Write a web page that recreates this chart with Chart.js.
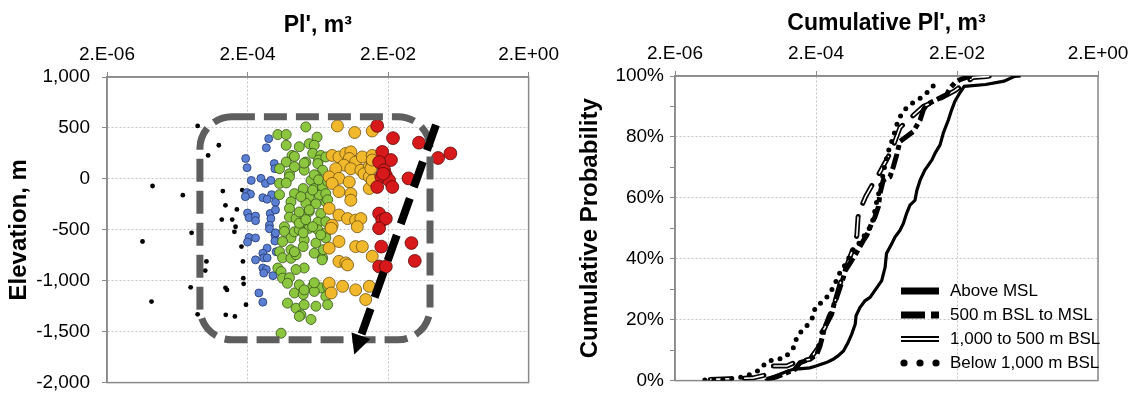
<!DOCTYPE html>
<html>
<head>
<meta charset="utf-8">
<script src="https://cdn.jsdelivr.net/npm/chart.js@4.4.1/dist/chart.umd.min.js"></script>
<style>
  html, body { margin: 0; padding: 0; background: #fff; overflow: hidden; }
  #wrap { position: relative; width: 1137px; height: 395px; overflow: hidden; }
  #elevChart { position: absolute; left: 0; top: 0; }
  #cdfChart { position: absolute; left: 565px; top: 0; }
</style>
</head>
<body>
<div id="wrap">
  <!-- canvases run a little past the bottom edge; Chart.js keeps room for the last y label there -->
  <canvas id="elevChart" width="565" height="406"></canvas>
  <canvas id="cdfChart" width="572" height="398"></canvas>
</div>
<script>
// Axis ticks (shared log axis for PI')
const piTicks = [2e-6, 2e-4, 2e-2, 2];
const piTickLabels = ['2.E-06', '2.E-04', '2.E-02', '2.E+00'];
const elevTicks = [-2000, -1500, -1000, -500, 0, 500, 1000];
const probTicks = [0, 10, 20, 30, 40, 50, 60, 70, 80, 90, 100];
const probMajor = [0, 20, 40, 60, 80, 100];

// Left chart: [PI' (m3), elevation (m)] grouped by PI' size class
const blackPoints = [
  [3.9e-5, 520], [7.8e-5, 330], [5.5e-5, 230], [8.9e-6, -70], [2.4e-5, -160], [8.9e-5, -120],
  [1.68e-4, -110], [9.7e-5, -260], [1.41e-4, -300], [8.6e-5, -400], [1.21e-4, -400], [1.35e-4, -470],
  [3.2e-5, -530], [1.3e-4, -520], [6.4e-6, -615], [1.64e-4, -665], [5.2e-5, -810], [5.0e-5, -900],
  [1.72e-4, -810], [1.74e-4, -975], [1.76e-4, -1030], [3.1e-5, -1065], [9.7e-5, -1070], [1.02e-4, -1090],
  [8.6e-6, -1205], [1.9e-4, -1235], [3.9e-5, -1330], [9.8e-5, -1335], [1.32e-4, -1350]
];
const bluePoints = [
  [4.0e-4, 395], [3.7e-4, 305], [1.88e-4, 200], [1.97e-4, 110], [4.8e-4, 150], [4.9e-4, 100],
  [2.26e-4, -15], [3.1e-4, 5], [3.6e-4, -45], [4.3e-4, -15], [1.96e-4, -135], [2.2e-4, -150],
  [1.86e-4, -175], [3.3e-4, -185], [4.4e-4, -155], [3.8e-4, -200], [5.0e-4, -230], [2.0e-4, -335],
  [2.1e-4, -380], [2.6e-4, -365], [2.6e-4, -410], [4.2e-4, -340], [4.3e-4, -390], [5.0e-4, -305],
  [4.1e-4, -455], [2.1e-4, -575], [2.0e-4, -620], [2.6e-4, -580], [4.1e-4, -490], [4.9e-4, -550],
  [4.9e-4, -610], [3.8e-4, -680], [3.3e-4, -730], [3.4e-4, -775], [2.6e-4, -795], [3.8e-4, -775],
  [3.3e-4, -875], [3.7e-4, -890], [3.4e-4, -925], [4.6e-4, -950], [2.9e-4, -1120], [3.3e-4, -1210],
  [5.0e-4, -530], [5.1e-4, -715]
];
const greenPoints = [
  [5.4e-4, 435], [7.1e-4, 435], [7.1e-4, 330], [8.6e-4, 230], [7.1e-4, 165], [5.7e-4, 100],
  [7.9e-4, 50], [7.9e-4, 20], [5.7e-4, -45], [9.3e-4, -145], [8.3e-4, -225], [7.9e-4, -290],
  [7.9e-4, -375], [9.8e-4, -390], [6.7e-4, -470], [6.7e-4, -515], [8.3e-4, -580], [9.3e-4, -520],
  [6.3e-4, -615], [8.3e-4, -695], [5.7e-4, -715], [6.3e-4, -775], [8.3e-4, -780], [9.8e-4, -745],
  [5.4e-4, -875], [6.0e-4, -910], [6.3e-4, -975], [7.9e-4, -970], [7.4e-4, -1025], [9.3e-4, -1120],
  [7.4e-4, -1220], [9.8e-4, -1270], [6.0e-4, -1515], [7.1e-4, -40], [5.7e-4, -155],
  [1.35e-3, 510], [1.95e-3, 410], [1.51e-3, 345], [1.78e-3, 330], [1.09e-3, 315], [1.69e-3, 250],
  [2.2e-3, 230], [2.05e-3, 185], [2.6e-3, 215], [1.35e-3, 165], [2.0e-3, 150], [2.34e-3, 85],
  [9.3e-4, 120], [1.28e-3, 85], [1.88e-3, 35], [2.76e-3, 5], [1.6e-3, -15], [1.24e-3, -95],
  [1.78e-3, -95], [2.34e-3, -80], [1.51e-3, -175], [2.1e-3, -160], [2.6e-3, -145], [1.35e-3, -240],
  [1.88e-3, -245], [2.6e-3, -225], [1.09e-3, -325], [1.51e-3, -320], [2.2e-3, -340], [1.28e-3, -420],
  [2.0e-3, -425], [2.6e-3, -420],
  [1.09e-3, -500], [1.51e-3, -485], [2.0e-3, -500], [2.6e-3, -530], [1.28e-3, -600], [1.88e-3, -630],
  [2.6e-3, -580], [1.24e-3, -665], [1.78e-3, -730], [2.34e-3, -775], [1.28e-3, -875], [1.09e-3, -1040],
  [1.69e-3, -1055], [2.2e-3, -1070], [1.24e-3, -1135], [1.78e-3, -1105], [2.6e-3, -1155], [1.28e-3, -1235],
  [1.88e-3, -1250], [2.76e-3, -1235], [1.15e-3, -1335], [1.6e-3, -1380], [1.09e-3, -1350],
  [1.78e-3, 40], [2.05e-3, -10], [1.28e-3, 155], [9.3e-4, 220], [2.76e-3, -25], [1.69e-3, -110],
  [1.09e-3, -435], [1.35e-3, -400], [1.24e-3, -530], [1.69e-3, -470], [2.2e-3, -550], [9.3e-4, -715],
  [2.4e-3, -695], [2.3e-3, -795], [9.8e-4, -890], [1.78e-3, -1020], [2.76e-3, -1055], [1.28e-3, -1090],
  [1.51e-3, -305], [2.76e-3, -205], [1.15e-3, -175]
];
const orangePoints = [
  [3.8e-3, 520], [6.7e-3, 455], [1.19e-2, 470], [3.2e-3, 230], [4.0e-3, 215], [5.0e-3, 250],
  [5.9e-3, 265], [5.6e-3, 200], [6.9e-3, 165], [8.6e-3, 215], [1.19e-2, 230], [4.7e-3, 135],
  [3.6e-3, 100], [5.9e-3, 100], [8.2e-3, 85], [1.08e-2, 120], [1.19e-2, 135], [9.1e-3, 50],
  [2.9e-3, 20], [4.0e-3, 5], [5.6e-3, -30], [1.08e-2, 20], [3.2e-3, -45], [1.08e-2, -95],
  [4.0e-3, -125], [5.9e-3, -145], [5.9e-3, -210], [2.9e-3, -290], [4.0e-3, -355], [5.3e-3, -390],
  [6.9e-3, -405], [8.2e-3, -390], [3.2e-3, -455], [1.19e-2, -15], [1.14e-2, 100], [1.19e-2, 185],
  [3.1e-3, -485], [7.3e-3, -470], [4.0e-3, -615], [2.9e-3, -680], [6.9e-3, -665], [8.6e-3, -665],
  [4.0e-3, -810], [5.0e-3, -825], [5.3e-3, -845], [1.19e-2, -760], [2.9e-3, -1025], [3.1e-3, -1120],
  [4.5e-3, -1055], [6.9e-3, -1090], [1.08e-2, -1055], [9.6e-3, -1185]
];
const redPoints = [
  [1.4e-2, 520], [2.35e-2, 400], [5.5e-2, 355], [1.03e-1, 205], [1.54e-1, 250], [1.65e-2, 265],
  [2.2e-2, 185], [1.49e-2, 165], [1.76e-2, 85], [1.86e-2, 35], [1.6e-2, 20], [2.07e-2, -15],
  [2.3e-2, -80], [1.4e-2, -80], [3.9e-2, 5], [1.49e-2, -340], [1.65e-2, -405], [1.86e-2, -390],
  [1.7e-2, 50], [1.49e-2, -485], [1.6e-2, -665], [1.49e-2, -860], [1.86e-2, -860], [4.3e-2, -630],
  [4.8e-2, -805]
];

// Annotation shapes on the left chart, in data units
const zoneBox = { xMin: 4.2e-5, xMax: 7.9e-2, yMin: -1580, yMax: 610 };
const trendArrow = { from: [9.6e-2, 530], to: [6.6e-3, -1725] };

// Right chart: [cumulative PI' (m3), cumulative probability (%)]
const cdfLabels = ['Above MSL', '500 m BSL to MSL', '1,000 to 500 m BSL', 'Below 1,000 m BSL'];
const aboveMsl = [
  [3.8e-5, 0], [4.5e-5, 0.9], [6.9e-5, 2.6], [9.5e-5, 3.7], [1.64e-4, 4.2], [2.0e-4, 4.8],
  [2.8e-4, 5.9], [3.5e-4, 7.0], [4.1e-4, 8.1], [4.9e-4, 9.7], [5.7e-4, 12.5], [6.4e-4, 15.2],
  [7.2e-4, 18.5], [7.4e-4, 21.3], [8.4e-4, 24.0], [9.9e-4, 26.2], [1.17e-3, 27.3], [1.71e-3, 32.8],
  [1.91e-3, 37.2], [2.0e-3, 41.7], [2.37e-3, 44.9], [2.64e-3, 47.1], [3.1e-3, 49.3], [3.47e-3, 51.6],
  [3.86e-3, 54.9], [4.3e-3, 57.6], [5.07e-3, 59.2], [5.4e-3, 62.5], [6.0e-3, 65.8], [7.0e-3, 69.1],
  [8.8e-3, 72.4], [9.8e-3, 74.7], [1.15e-2, 77.4], [1.28e-2, 81.3], [1.51e-2, 85.6], [1.68e-2, 88.9],
  [1.87e-2, 91.7], [2.2e-2, 94.5], [2.53e-2, 96.6], [5.1e-2, 97.2], [9.3e-2, 98.3], [1.32e-1, 99.9],
  [1.6e-1, 100]
];
const bsl500ToMsl = [
  [4.0e-5, 0.4], [5.5e-5, 1.2], [7.7e-5, 2.6], [1.0e-4, 3.7], [1.19e-4, 5.9], [1.64e-4, 7.0],
  [2.05e-4, 8.6], [2.28e-4, 11.4], [2.49e-4, 14.7], [2.62e-4, 17.2], [3.34e-4, 21.8], [3.6e-4, 25.1],
  [3.93e-4, 27.3], [4.38e-4, 30.6], [4.9e-4, 33.9], [5.2e-4, 36.1], [6.4e-4, 39.4], [7.6e-4, 42.2],
  [9.4e-4, 46.0], [1.05e-3, 47.7], [1.23e-3, 51.6], [1.37e-3, 53.7], [1.53e-3, 57.0], [1.62e-3, 61.5],
  [1.8e-3, 65.8], [2.24e-3, 66.9], [2.5e-3, 70.2], [2.79e-3, 74.1], [3.1e-3, 78.5], [4.8e-3, 81.8],
  [6.0e-3, 85.6], [6.67e-3, 88.9], [7.4e-3, 90.6], [9.2e-3, 91.7], [1.43e-2, 93.9], [1.6e-2, 96.1],
  [1.87e-2, 97.8], [2.2e-2, 98.8], [2.85e-2, 99.7], [3.2e-2, 100]
];
const bsl1000To500 = [
  [6.3e-6, 0.4], [1.2e-5, 0.6], [2.58e-5, 0.9], [3.78e-5, 1.8], [4.8e-5, 4.8], [7.7e-5, 4.8],
  [1.06e-4, 6.2], [1.64e-4, 7.0], [2.15e-4, 10.8], [2.41e-4, 15.8], [2.68e-4, 17.4], [3.06e-4, 21.0],
  [3.52e-4, 24.0], [4.38e-4, 31.7], [5.7e-4, 38.8], [6.7e-4, 43.3], [7.6e-4, 47.7], [7.9e-4, 53.7],
  [8.4e-4, 56.0], [1.02e-3, 60.6], [1.37e-3, 65.8], [1.53e-3, 67.5], [2.0e-3, 72.4], [2.37e-3, 75.7],
  [3.1e-3, 83.0], [4.06e-3, 85.6], [6.67e-3, 90.0], [1.15e-2, 92.6], [1.87e-2, 95.2], [3.37e-2, 99.5],
  [5.2e-2, 99.8], [5.9e-2, 100]
];
const below1000 = [
  [5.3e-6, 0.2], [1.02e-5, 0.4], [1.89e-5, 1.2], [2.45e-5, 2.2], [3.2e-5, 3.5], [4.0e-5, 6.2],
  [5.3e-5, 7.0], [6.9e-5, 7.3], [8.5e-5, 9.2], [1.0e-4, 11.4], [1.06e-4, 14.1], [1.25e-4, 16.3],
  [1.55e-4, 18.5], [1.86e-4, 21.3], [1.94e-4, 24.0], [2.41e-4, 25.7], [2.98e-4, 27.9], [3.52e-4, 30.6],
  [4.38e-4, 35.5], [5.45e-4, 38.8], [6.4e-4, 42.2], [8.4e-4, 45.5], [1.05e-3, 48.8], [1.17e-3, 50.4],
  [1.3e-3, 53.2], [1.37e-3, 55.9], [1.45e-3, 58.7], [1.53e-3, 60.9], [1.71e-3, 65.3], [1.8e-3, 68.1],
  [1.9e-3, 70.8], [2.12e-3, 75.2], [2.5e-3, 80.1], [2.94e-3, 85.6], [3.47e-3, 88.4], [4.3e-3, 90.6],
  [5.6e-3, 92.2], [7.0e-3, 93.9], [8.8e-3, 96.1], [1.03e-2, 98.5]
];

Chart.defaults.font.family = "'Liberation Sans', Arial, sans-serif";
Chart.defaults.color = '#000';

const axisGrey = '#8a8a8a';
const gridGrey = '#c4c4c4';

const toXY = arr => arr.map(([x, y]) => ({ x: x, y: y }));

function pointSet(label, pts, fill, edge, radius) {
    return {
        label: label,
        data: toXY(pts),
        backgroundColor: fill,
        borderColor: edge,
        borderWidth: edge ? 0.8 : 0,
        pointRadius: radius,
        pointHoverRadius: radius
    };
}

// solid frame around the plot area
const framePlugin = {
    id: 'frame',
    beforeDatasetsDraw(chart) {
        const { ctx, chartArea: a } = chart;
        ctx.save();
        ctx.strokeStyle = axisGrey;
        ctx.lineWidth = 1.5;
        ctx.strokeRect(a.left, a.top, a.right - a.left, a.bottom - a.top);
        ctx.restore();
    }
};

// dashed zone box and trend arrow
const trendMarks = {
    id: 'trendMarks',
    afterDatasetsDraw(chart) {
        const { ctx, scales: { x, y } } = chart;
        const l = x.getPixelForValue(zoneBox.xMin), r = x.getPixelForValue(zoneBox.xMax);
        const t = y.getPixelForValue(zoneBox.yMax), b = y.getPixelForValue(zoneBox.yMin);
        const rad = 32;
        ctx.save();
        ctx.strokeStyle = '#5e5e5e';
        ctx.lineWidth = 7;
        ctx.setLineDash([23, 9]);
        ctx.beginPath();
        ctx.moveTo(l + rad, t);
        ctx.lineTo(r - rad, t);
        ctx.arcTo(r, t, r, t + rad, rad);
        ctx.lineTo(r, b - rad);
        ctx.arcTo(r, b, r - rad, b, rad);
        ctx.lineTo(l + rad, b);
        ctx.arcTo(l, b, l, b - rad, rad);
        ctx.lineTo(l, t + rad);
        ctx.arcTo(l, t, l + rad, t, rad);
        ctx.closePath();
        ctx.stroke();

        const x1 = x.getPixelForValue(trendArrow.from[0]), y1 = y.getPixelForValue(trendArrow.from[1]);
        const x2 = x.getPixelForValue(trendArrow.to[0]), y2 = y.getPixelForValue(trendArrow.to[1]);
        const len = Math.hypot(x2 - x1, y2 - y1);
        const ux = (x2 - x1) / len, uy = (y2 - y1) / len;
        const head = 20;
        ctx.strokeStyle = '#000';
        ctx.lineWidth = 8;
        ctx.setLineDash([27, 12]);
        ctx.beginPath();
        ctx.moveTo(x1, y1);
        ctx.lineTo(x2 - ux * head, y2 - uy * head);
        ctx.stroke();
        ctx.setLineDash([]);
        ctx.fillStyle = '#000';
        ctx.beginPath();
        ctx.moveTo(x2, y2);
        ctx.lineTo(x2 - ux * head - uy * 10, y2 - uy * head + ux * 10);
        ctx.lineTo(x2 - ux * head + uy * 10, y2 - uy * head - ux * 10);
        ctx.closePath();
        ctx.fill();
        ctx.restore();
    }
};

// legend drawn inside the plot, lower right
const cdfLegend = {
    id: 'cdfLegend',
    afterDatasetsDraw(chart) {
        const { ctx, chartArea: a } = chart;
        const x0 = a.left + 226, x1 = x0 + 38, tx = a.left + 275;
        const rowY = [215, 239, 263, 287].map(v => a.top + v);
        ctx.save();
        ctx.font = "17px 'Liberation Sans', Arial, sans-serif";
        ctx.textBaseline = 'middle';
        ctx.fillStyle = '#000';
        ctx.strokeStyle = '#000';
        cdfLabels.forEach((label, i) => {
            const yy = rowY[i];
            ctx.lineCap = 'butt';
            if (i === 0) {
                ctx.lineWidth = 7;
                ctx.beginPath(); ctx.moveTo(x0, yy); ctx.lineTo(x1, yy); ctx.stroke();
            } else if (i === 1) {
                ctx.lineWidth = 7;
                ctx.beginPath(); ctx.moveTo(x0, yy); ctx.lineTo(x0 + 24, yy);
                ctx.moveTo(x0 + 30, yy); ctx.lineTo(x1, yy); ctx.stroke();
            } else if (i === 2) {
                ctx.lineWidth = 6;
                ctx.beginPath(); ctx.moveTo(x0, yy); ctx.lineTo(x1, yy); ctx.stroke();
                ctx.strokeStyle = '#fff';
                ctx.lineWidth = 2;
                ctx.beginPath(); ctx.moveTo(x0, yy); ctx.lineTo(x1, yy); ctx.stroke();
                ctx.strokeStyle = '#000';
            } else {
                [3, 19, 35].forEach(dx => {
                    ctx.beginPath(); ctx.arc(x0 + dx, yy, 3.6, 0, Math.PI * 2); ctx.fill();
                });
            }
            ctx.fillText(label, tx, yy);
        });
        ctx.restore();
    }
};

function piAxis(title, titlePad, height) {
    return {
        type: 'logarithmic',
        position: 'top',
        min: piTicks[0],
        max: piTicks[piTicks.length - 1],
        afterBuildTicks: s => { s.ticks = piTicks.map(v => ({ value: v })); },
        afterFit: s => { s.height = height; },
        ticks: {
            callback: (v, i) => piTickLabels[i],
            font: { size: 19 },
            color: '#000',
            padding: 6,
            maxRotation: 0,
            autoSkip: false
        },
        grid: { color: gridGrey, tickColor: axisGrey, tickLength: 5, lineWidth: 1 },
        border: { color: axisGrey, width: 1.5, dash: [2, 2] },
        title: {
            display: true,
            text: title,
            font: { size: 23, weight: 'bold' },
            color: '#000',
            padding: { top: titlePad, bottom: 0 }
        }
    };
}

new Chart(document.getElementById('elevChart'), {
    type: 'scatter',
    data: {
        datasets: [
            pointSet('> 1.5E-02', redPoints, '#d8191b', '#5a0a0a', 6.4),
            pointSet('6E-03 to 1.5E-02', orangePoints, '#f1b82c', '#6e5210', 6.0),
            pointSet('8E-04 to 6E-03', greenPoints, '#8cc63e', '#35521a', 5.0),
            pointSet('1.8E-04 to 8E-04', bluePoints, '#5b7fd3', '#23386e', 4.0),
            pointSet('< 1.8E-04', blackPoints, '#000', null, 2.4)
        ]
    },
    options: {
        responsive: false,
        animation: false,
        layout: { padding: { left: 0, top: 0, right: 35, bottom: 2 } },
        plugins: { legend: { display: false }, tooltip: { enabled: false } },
        scales: {
            x: piAxis("Pl', m³", 12, 77),
            y: {
                min: -2000,
                max: 1000,
                afterBuildTicks: s => { s.ticks = elevTicks.map(v => ({ value: v })); },
                afterFit: s => { s.width = 107; },
                ticks: {
                    callback: v => v.toLocaleString('en-US'),
                    font: { size: 19 },
                    color: '#000',
                    padding: 12
                },
                grid: { color: gridGrey, tickColor: axisGrey, tickLength: 5, lineWidth: 1 },
                border: { color: axisGrey, width: 1.5, dash: [2, 2] },
                title: {
                    display: true,
                    text: 'Elevation, m',
                    font: { size: 24, weight: 'bold' },
                    color: '#000',
                    padding: { top: 5, bottom: 0 }
                }
            }
        }
    },
    plugins: [framePlugin, trendMarks]
});

new Chart(document.getElementById('cdfChart'), {
    type: 'scatter',
    data: {
        datasets: [
            {
                label: cdfLabels[3], data: toXY(below1000), showLine: true, pointRadius: 0,
                borderColor: '#000', borderWidth: 5, borderDash: [0, 9], borderCapStyle: 'round'
            },
            {
                label: cdfLabels[1], data: toXY(bsl500ToMsl), showLine: true, pointRadius: 0,
                borderColor: '#000', borderWidth: 5, borderDash: [16, 4, 5, 4]
            },
            {
                label: cdfLabels[0], data: toXY(aboveMsl), showLine: true, pointRadius: 0,
                borderColor: '#000', borderWidth: 3.2
            },
            {
                label: cdfLabels[2] + ' (inner)', data: toXY(bsl1000To500), showLine: true, pointRadius: 0,
                borderColor: '#fff', borderWidth: 1.6, borderDash: [20, 14]
            },
            {
                label: cdfLabels[2], data: toXY(bsl1000To500), showLine: true, pointRadius: 0,
                borderColor: '#000', borderWidth: 5, borderDash: [20, 14], borderCapStyle: 'round'
            }
        ]
    },
    options: {
        responsive: false,
        animation: false,
        layout: { padding: { left: 0, top: 0, right: 39, bottom: 12 } },
        plugins: { legend: { display: false }, tooltip: { enabled: false } },
        scales: {
            x: piAxis("Cumulative Pl', m³", 10, 76),
            y: {
                min: 0,
                max: 100,
                afterBuildTicks: s => { s.ticks = probTicks.map(v => ({ value: v })); },
                afterFit: s => { s.width = 110; },
                ticks: {
                    callback: v => (probMajor.includes(v) ? v + '%' : ''),
                    font: { size: 19 },
                    color: '#000',
                    padding: 6
                },
                grid: {
                    color: c => (c.tick && probMajor.includes(c.tick.value) ? gridGrey : 'rgba(0,0,0,0)'),
                    tickColor: axisGrey,
                    tickLength: 5,
                    lineWidth: 1
                },
                border: { color: axisGrey, width: 1.5, dash: [2, 2] },
                title: {
                    display: true,
                    text: 'Cumulative Probability',
                    font: { size: 24, weight: 'bold' },
                    color: '#000',
                    padding: { top: 11, bottom: 0 }
                }
            }
        }
    },
    plugins: [framePlugin, cdfLegend]
});
</script>
</body>
</html>
